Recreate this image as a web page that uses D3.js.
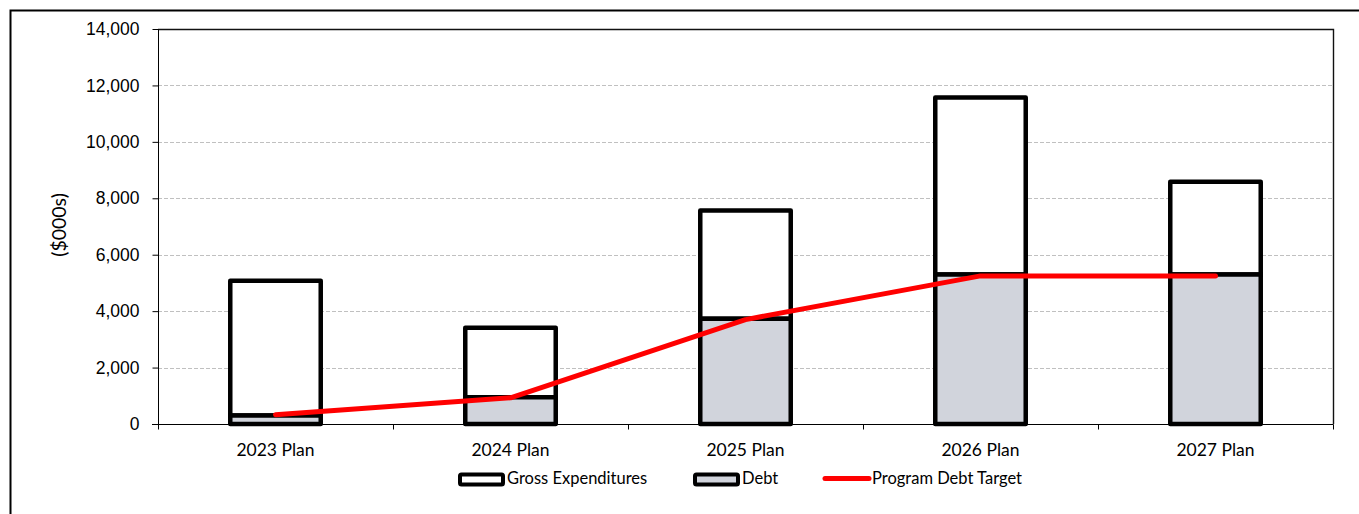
<!DOCTYPE html>
<html>
<head>
<meta charset="utf-8">
<script src="https://cdn.jsdelivr.net/npm/d3@7"></script>
<style>
  body { margin: 0; background: #fff; }
  svg { display: block; font-family: Lato, "Open Sans", sans-serif; }
</style>
</head>
<body>
<div id="chart"></div>
<script>
// chart data
var categories = ["2023 Plan", "2024 Plan", "2025 Plan", "2026 Plan", "2027 Plan"];
var grossValues = [5080, 3410, 7570, 11570, 8590];
var debtValues = [300, 950, 3730, 5300, 5300];
var targetValues = [330, 930, 3700, 5250, 5250];
var yTicks = [0, 2000, 4000, 6000, 8000, 10000, 12000, 14000];
var legendNames = ["Gross Expenditures", "Debt", "Program Debt Target"];

var width = 1359;
var height = 514;
var margin = { left: 158, right: 1333, top: 29, bottom: 424 };

var svg = d3.select("#chart").append("svg")
    .attr("width", width)
    .attr("height", height);

// outer frame
svg.append("rect")
    .attr("x", 10.5).attr("y", 10.5)
    .attr("width", width + 20).attr("height", height + 20)
    .style("fill", "none")
    .style("stroke", "#000")
    .style("stroke-width", 2);

var x = d3.scaleBand().domain(categories).range([margin.left, margin.right]).padding(0);
var y = d3.scaleLinear().domain([0, 14000]).range([margin.bottom, margin.top]);
var barW = x.bandwidth() * 0.385;

// gridlines
svg.append("g").selectAll("line").data(yTicks.slice(1, -1)).enter()
    .append("line")
    .attr("x1", margin.left).attr("x2", margin.right)
    .attr("y1", function (d) { return Math.round(y(d)) + 0.5; })
    .attr("y2", function (d) { return Math.round(y(d)) + 0.5; })
    .style("stroke", "#c0c0c0")
    .style("stroke-dasharray", "4,2")
    .style("stroke-width", 1);

// plot border (top + right)
svg.append("path")
    .attr("d", "M" + margin.left + "," + (margin.top + 0.5) + "H" + (margin.right + 0.5) + "V" + margin.bottom)
    .style("fill", "none")
    .style("stroke", "#111")
    .style("stroke-width", 1.4);

// y axis
var yAxis = svg.append("g")
    .attr("transform", "translate(" + (margin.left + 0.5) + ",0)")
    .call(d3.axisLeft(y).tickValues(yTicks).tickSize(6).tickPadding(13)
        .tickFormat(d3.format(",")));
yAxis.selectAll("text").style("font-size", "17.5px").style("fill", "#000");
yAxis.selectAll("line,path").style("stroke", "#000");
yAxis.select("path").attr("d", "M0," + margin.bottom + "V" + margin.top);

// x axis
var xAxis = svg.append("g")
    .attr("transform", "translate(0," + (margin.bottom + 0.5) + ")");
xAxis.append("line")
    .attr("x1", margin.left - 6).attr("x2", margin.right + 0.5)
    .style("stroke", "#000");
xAxis.selectAll("line.tick").data(d3.range(categories.length + 1)).enter()
    .append("line").classed("tick", true)
    .attr("x1", function (d) { return Math.round(margin.left + d * x.step()) + 0.5; })
    .attr("x2", function (d) { return Math.round(margin.left + d * x.step()) + 0.5; })
    .attr("y1", 0).attr("y2", 5)
    .style("stroke", "#000");
xAxis.selectAll("text").data(categories).enter()
    .append("text")
    .attr("x", function (d) { return x(d) + x.bandwidth() / 2; })
    .attr("y", 31)
    .attr("text-anchor", "middle")
    .style("font-size", "17.5px")
    .text(function (d) { return d; });

// bars
var bars = svg.append("g");
bars.selectAll("rect.gross").data(categories).enter()
    .append("rect").classed("gross", true)
    .attr("x", function (d) { return x(d) + x.bandwidth() / 2 - barW / 2; })
    .attr("y", function (d, i) { return y(grossValues[i]); })
    .attr("width", barW)
    .attr("height", function (d, i) { return y(debtValues[i]) - y(grossValues[i]); })
    .style("fill", "#fff")
    .style("stroke", "#000")
    .style("stroke-width", 4.5)
    .style("stroke-linejoin", "round");
bars.selectAll("rect.debt").data(categories).enter()
    .append("rect").classed("debt", true)
    .attr("x", function (d) { return x(d) + x.bandwidth() / 2 - barW / 2; })
    .attr("y", function (d, i) { return y(debtValues[i]); })
    .attr("width", barW)
    .attr("height", function (d, i) { return y(0) - y(debtValues[i]); })
    .style("fill", "#d1d4dc")
    .style("stroke", "#000")
    .style("stroke-width", 4.5)
    .style("stroke-linejoin", "round");

// target line
var line = d3.line()
    .x(function (d, i) { return x(categories[i]) + x.bandwidth() / 2; })
    .y(function (d) { return y(d); });
svg.append("path")
    .datum(targetValues)
    .attr("d", line)
    .style("fill", "none")
    .style("stroke", "#ff0000")
    .style("stroke-width", 5)
    .style("stroke-linecap", "round")
    .style("stroke-linejoin", "round");

// legend
var legend = svg.append("g").style("font-size", "16.5px");
var legX = [460, 695, 825];
legend.append("rect")
    .attr("x", legX[0]).attr("y", 474.5).attr("width", 43).attr("height", 10)
    .attr("rx", 1.5)
    .style("fill", "#fff").style("stroke", "#000").style("stroke-width", 4);
legend.append("rect")
    .attr("x", legX[1]).attr("y", 474.5).attr("width", 43).attr("height", 10)
    .attr("rx", 1.5)
    .style("fill", "#d1d4dc").style("stroke", "#000").style("stroke-width", 4);
legend.append("line")
    .attr("x1", legX[2]).attr("x2", legX[2] + 44)
    .attr("y1", 478.5).attr("y2", 478.5)
    .style("stroke", "#ff0000").style("stroke-width", 5).style("stroke-linecap", "round");
legend.selectAll("text").data(legendNames).enter()
    .append("text")
    .attr("x", function (d, i) { return [507, 742, 872][i]; })
    .attr("y", 484)
    .text(function (d) { return d; });

// y axis title
svg.append("text")
    .attr("transform", "translate(66,225) rotate(-90)")
    .attr("text-anchor", "middle")
    .style("font-size", "19.5px")
    .text("($000s)");
</script>
</body>
</html>
